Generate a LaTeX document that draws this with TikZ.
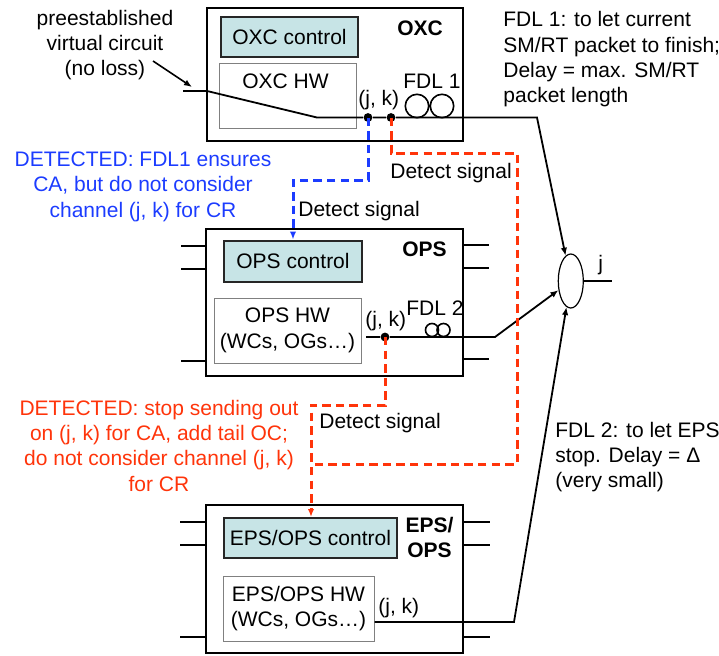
\documentclass[tikz,border=0pt]{standalone}
\usepackage{fontspec}
\setmainfont{Liberation Sans}
\usetikzlibrary{arrows.meta,positioning,shapes.geometric}
\definecolor{ctrlfill}{RGB}{199,228,230}
\definecolor{detblue}{RGB}{28,60,255}
\definecolor{detred}{RGB}{255,52,10}
\tikzset{
  outerbox/.style={draw=black, line width=1.3pt, fill=white, inner sep=0pt},
  ctrlbox/.style={draw=black!85, line width=1pt, fill=ctrlfill, inner sep=0pt},
  hwbox/.style={draw=black!50, line width=0.5pt, fill=white, inner sep=0pt, align=center},
  txt/.style={inner sep=0pt},
  stub/.style={line width=0.9pt},
  sig/.style={line width=0.9pt},
  tip/.style={-{Latex[length=4pt,width=3.2pt]}},
  jkdot/.style={circle, fill=black, inner sep=0pt, minimum size=4.4pt},
  bluedet/.style={detblue, line width=1.5pt, dash pattern=on 4.2pt off 2.6pt},
  reddet/.style={detred, line width=1.5pt, dash pattern=on 4.2pt off 2.6pt}
}

\begin{document}
\begin{tikzpicture}[x=0.5pt, y=-0.5pt, font=\fontsize{10.5}{12.7}\selectfont]
  %%%%% START %%%%%
  \useasboundingbox (0,0) rectangle (719,655);

  % OXC
  \node[outerbox, minimum width=128pt, minimum height=66.5pt] (oxc) at (335,74.5) {};
  \node[ctrlbox, minimum width=68.5pt, minimum height=20pt] (oxcctrl) at (289.5,36.5) {OXC control};
  \node[hwbox, minimum width=68.5pt, minimum height=32.5pt] (oxchw) at (287.5,95.5) {};
  \node[txt, anchor=base] (oxchwtxt) at (285.5,88) {OXC HW};
  \node[txt, anchor=base west, font=\fontsize{10.5}{12.7}\selectfont\bfseries] (oxclbl) at (397,35) {OXC};

  % OPS
  \node[outerbox, minimum width=128.5pt, minimum height=73.5pt] (ops) at (334.5,302.5) {};
  \foreach \y in {246,269,361} \draw[stub] (181,\y) -- (206,\y);
  \foreach \y in {245,268,359} \draw[stub] (463,\y) -- (489,\y);
  \node[ctrlbox, minimum width=69pt, minimum height=20.5pt] (opsctrl) at (293,261) {OPS control};
  \node[hwbox, minimum width=73.5pt, minimum height=32.5pt] (opshw) at (287.5,330.5) {OPS HW\\(WCs, OGs…)};
  \node[txt, anchor=base west, font=\fontsize{10.5}{12.7}\selectfont\bfseries] (opslbl) at (402,256.5) {OPS};

  % EPS/OPS
  \node[outerbox, minimum width=128.5pt, minimum height=74pt] (eps) at (334.5,579) {};
  \foreach \y in {522,545,637} \draw[stub] (180,\y) -- (206,\y);
  \foreach \y in {522,545,637} \draw[stub] (463,\y) -- (490,\y);
  \node[ctrlbox, minimum width=86.5pt, minimum height=20pt] (epsctrl) at (310.5,538) {EPS/OPS control};
  \node[hwbox, minimum width=75.5pt, minimum height=32.5pt] (epshw) at (298.5,608.5) {EPS/OPS HW\\(WCs, OGs…)};
  \node[txt, anchor=north, align=center, font=\fontsize{10.5}{12.5}\selectfont\bfseries] (epslbl) at (429.5,516.5) {EPS/\\OPS};

  % combiner
  \node[draw, ellipse, line width=0.6pt, fill=white, inner sep=0pt, minimum width=12.5pt, minimum height=27pt] (mux) at (570.8,281) {};
  \coordinate (jout) at (611.5,281);
  \draw[stub] (mux.east) -- (jout);
  \node[txt, anchor=base west] (jlbl) at (598,270) {j};

  % preestablished circuit through OXC
  \coordinate (vcin) at (183,91);
  \coordinate (vcbend) at (207,91);
  \coordinate (vcsw) at (317,117.5);
  \coordinate (oxcout) at (537,117.5);
  \node[jkdot] (jk1) at (368,117.5) {};
  \node[jkdot] (jk2) at (391,117.5) {};
  \draw[sig, tip] (vcin) -- (vcbend) -- (vcsw) -- (jk1) -- (jk2) -- (oxcout) -- (mux);
  \draw[line width=0.8pt] (417,106) circle (5.85pt) (442,106) circle (5.85pt);
  \node[txt, anchor=base west] (jkoxc) at (358,105) {(j, k)};
  \node[txt, anchor=base west] (fdl1) at (403,88) {FDL 1};

  % OPS path
  \coordinate (opsin) at (366,337);
  \coordinate (opsbend) at (495,337);
  \node[jkdot] (jk3) at (385,337) {};
  \draw[sig, tip] (opsin) -- (jk3) -- (opsbend) -- (mux);
  \draw[line width=0.8pt] (432,330) circle (3.25pt) (443.5,330) circle (3.25pt);
  \node[txt, anchor=base west] (jkops) at (365,326.5) {(j, k)};
  \node[txt, anchor=base west] (fdl2) at (406,315) {FDL 2};

  % EPS/OPS path
  \coordinate (epsbend) at (514,622);
  \draw[sig, tip] (epshw.east |- epsbend) -- (epsbend) -- (mux);
  \node[txt, anchor=base west] (jkeps) at (378,613) {(j, k)};

  % detect signals
  \coordinate (bturn) at (293,180);
  \draw[bluedet, tip] (jk1.center) |- (bturn) -- (bturn |- opsctrl.north);
  \node[txt, anchor=base west] (det1) at (298,216) {Detect signal};

  \coordinate (r1a) at (517,153);
  \coordinate (r1b) at (517,464);
  \coordinate (r1c) at (312,464);
  \draw[reddet] (jk2.center) |- (r1a) -- (r1b) -- (r1c);
  \node[txt, anchor=base west] (det2) at (390,178) {Detect signal};

  \coordinate (r2a) at (311,405);
  \draw[reddet, tip] (jk3.center) |- (r2a) -- (r2a |- epsctrl.north);
  \node[txt, anchor=base west] (det3) at (319,428) {Detect signal};

  % notes
  \node[txt, anchor=north, align=center] (vcnote) at (105,9.5) {preestablished\\virtual circuit\\(no loss)};
  \coordinate (vcptr) at (192,87);
  \draw[line width=0.8pt, tip] (153,61) -- (vcptr);
  \node[txt, anchor=north, align=center, text=detblue] (bluenote) at (143,151.5)
    {DETECTED: FDL1 ensures\\CA, but do not consider\\channel (j, k) for CR};
  \node[txt, anchor=north, align=center, text=detred] (rednote) at (159,399.5)
    {DETECTED: stop sending out\\on (j, k) for CA, add tail OC;\\do not consider channel (j, k)\\for CR};
  \node[txt, anchor=north west, align=left] (fdl1note) at (503,11)
    {FDL 1: to let current\\SM/RT packet to finish;\\Delay = max. SM/RT\\packet length};
  \node[txt, anchor=north west, align=left] (fdl2note) at (555,421.5)
    {FDL 2: to let EPS\\stop. Delay = Δ\\(very small)};
  %%%%% END %%%%%
\end{tikzpicture}
\end{document}
